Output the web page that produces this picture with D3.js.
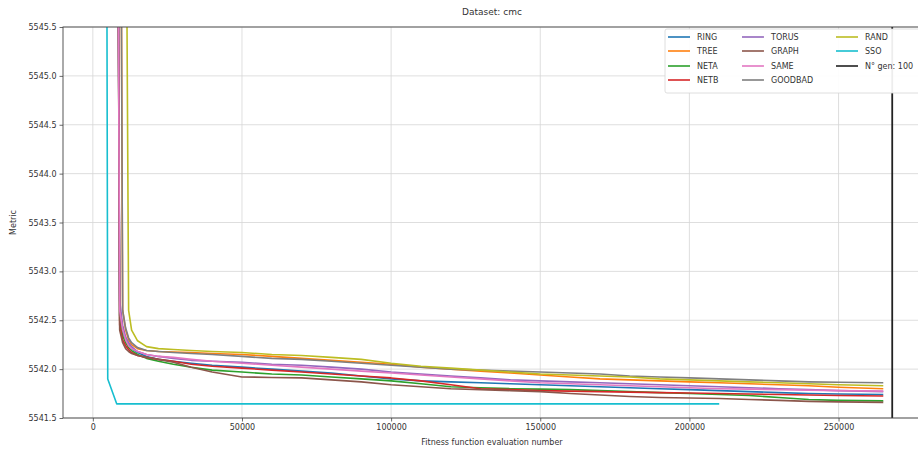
<!DOCTYPE html>
<html>
<head>
<meta charset="utf-8">
<script src="https://cdn.jsdelivr.net/npm/d3@7"></script>
<style>
  html, body { margin: 0; padding: 0; background: #fff; }
  svg { display: block; font-family: "DejaVu Sans", sans-serif; }
</style>
</head>
<body>
<svg id="chart" width="918" height="451"></svg>
<script>
// Fitness evaluation counts shared by every run
const evals = [4500, 5000, 8000, 9000, 10000, 11000, 12000, 13000, 15000, 18000, 22000, 27000,
  33000, 40000, 50000, 60000, 70000, 80000, 90000, 100000, 110000, 120000, 130000, 140000,
  150000, 160000, 170000, 180000, 190000, 200000, 210000, 220000, 230000, 240000, 250000, 265000];

// Best metric found so far by each topology (null = not yet sampled)
const ring = [null, null, 5550, 5542.55, 5542.38, 5542.3, 5542.25, 5542.21, 5542.17, 5542.13, 5542.1, 5542.08,
  5542.06, 5542.04, 5542.02, 5542.0, 5541.98, 5541.96, 5541.93, 5541.9, 5541.88, 5541.87, 5541.86, 5541.85,
  5541.84, 5541.83, 5541.82, 5541.81, 5541.8, 5541.79, 5541.78, 5541.77, 5541.76, 5541.75, 5541.745, 5541.74];
const tree = [null, null, 5551, 5550, 5542.6, 5542.4, 5542.3, 5542.25, 5542.21, 5542.19, 5542.18, 5542.175,
  5542.17, 5542.16, 5542.15, 5542.13, 5542.11, 5542.09, 5542.07, 5542.05, 5542.02, 5542.0, 5541.98, 5541.96,
  5541.94, 5541.92, 5541.9, 5541.89, 5541.88, 5541.87, 5541.86, 5541.85, 5541.84, 5541.83, 5541.815, 5541.8];
const neta = [null, null, 5550, 5542.5, 5542.34, 5542.27, 5542.22, 5542.19, 5542.15, 5542.11, 5542.08, 5542.05,
  5542.02, 5541.99, 5541.97, 5541.95, 5541.94, 5541.92, 5541.9, 5541.88, 5541.85, 5541.82, 5541.81, 5541.8,
  5541.795, 5541.79, 5541.78, 5541.77, 5541.76, 5541.75, 5541.74, 5541.73, 5541.71, 5541.69, 5541.68, 5541.675];
const netb = [null, null, 5550, 5542.45, 5542.3, 5542.24, 5542.2, 5542.17, 5542.14, 5542.12, 5542.1, 5542.08,
  5542.05, 5542.03, 5542.01, 5541.99, 5541.97, 5541.95, 5541.93, 5541.91, 5541.88, 5541.84, 5541.8, 5541.79,
  5541.78, 5541.775, 5541.77, 5541.765, 5541.76, 5541.755, 5541.75, 5541.745, 5541.74, 5541.735, 5541.73, 5541.725];
const torus = [null, null, 5550, 5542.7, 5542.45, 5542.33, 5542.27, 5542.23, 5542.18, 5542.15, 5542.13, 5542.11,
  5542.09, 5542.08, 5542.07, 5542.05, 5542.04, 5542.02, 5542.0, 5541.97, 5541.95, 5541.93, 5541.91, 5541.89,
  5541.88, 5541.87, 5541.86, 5541.85, 5541.84, 5541.83, 5541.82, 5541.81, 5541.8, 5541.79, 5541.78, 5541.77];
const graph = [null, null, 5550, 5542.4, 5542.27, 5542.21, 5542.18, 5542.16, 5542.14, 5542.12, 5542.1, 5542.07,
  5542.02, 5541.97, 5541.92, 5541.915, 5541.91, 5541.89, 5541.87, 5541.84, 5541.82, 5541.8, 5541.79, 5541.78,
  5541.77, 5541.75, 5541.735, 5541.72, 5541.71, 5541.705, 5541.7, 5541.69, 5541.68, 5541.67, 5541.665, 5541.66];
const same = [null, null, 5550, 5542.6, 5542.4, 5542.3, 5542.24, 5542.21, 5542.18, 5542.15, 5542.13, 5542.12,
  5542.1, 5542.08, 5542.06, 5542.04, 5542.02, 5542.0, 5541.98, 5541.96, 5541.94, 5541.92, 5541.9, 5541.88,
  5541.86, 5541.85, 5541.84, 5541.83, 5541.82, 5541.81, 5541.8, 5541.795, 5541.79, 5541.785, 5541.78, 5541.775];
const goodbad = [null, null, 5551, 5550, 5542.6, 5542.42, 5542.32, 5542.27, 5542.22, 5542.19, 5542.18, 5542.17,
  5542.16, 5542.15, 5542.13, 5542.11, 5542.1, 5542.08, 5542.06, 5542.04, 5542.02, 5542.0, 5541.99, 5541.98,
  5541.97, 5541.96, 5541.95, 5541.93, 5541.92, 5541.91, 5541.9, 5541.89, 5541.88, 5541.87, 5541.865, 5541.86];
const rand = [null, null, 5551, 5550, 5549, 5548, 5542.6, 5542.4, 5542.29, 5542.23, 5542.21, 5542.2,
  5542.19, 5542.18, 5542.17, 5542.15, 5542.14, 5542.12, 5542.1, 5542.06, 5542.03, 5542.01, 5541.99, 5541.97,
  5541.95, 5541.94, 5541.93, 5541.92, 5541.9, 5541.89, 5541.88, 5541.87, 5541.86, 5541.85, 5541.84, 5541.83];
const sso = [5549, 5541.9, 5541.645, 5541.645, 5541.645, 5541.645, 5541.645, 5541.645, 5541.645, 5541.645, 5541.645, 5541.645,
  5541.645, 5541.645, 5541.645, 5541.645, 5541.645, 5541.645, 5541.645, 5541.645, 5541.645, 5541.645, 5541.645, 5541.645,
  5541.645, 5541.645, 5541.645, 5541.645, 5541.645, 5541.645, 5541.645, null, null, null, null, null];

const seriesNames = ["RING", "TREE", "NETA", "NETB", "TORUS", "GRAPH", "SAME", "GOODBAD", "RAND", "SSO"];
const seriesValues = [ring, tree, neta, netb, torus, graph, same, goodbad, rand, sso];
const seriesColors = ["#1f77b4", "#ff7f0e", "#2ca02c", "#d62728", "#9467bd",
  "#8c564b", "#e377c2", "#7f7f7f", "#bcbd22", "#17becf"];

// Generation limit marker
const genLimitLabel = "N° gen: 100";
const genLimitEval = 268000;

const xTicks = [0, 50000, 100000, 150000, 200000, 250000];
const yTicks = [5541.5, 5542.0, 5542.5, 5543.0, 5543.5, 5544.0, 5544.5, 5545.0, 5545.5];

const svg = d3.select("#chart");
const plot = { left: 63, right: 931, top: 27, bottom: 418 };

const x = d3.scaleLinear().domain([-10000, 281000]).range([plot.left, plot.right]);
const y = d3.scaleLinear().domain([5541.5, 5545.5]).range([plot.bottom, plot.top]);

svg.append("defs").append("clipPath").attr("id", "plotClip")
  .append("rect")
  .attr("x", plot.left).attr("y", plot.top)
  .attr("width", plot.right - plot.left).attr("height", plot.bottom - plot.top);

// Grid
const grid = svg.append("g").attr("stroke", "#d6d6d6").attr("stroke-width", 0.8);
grid.selectAll(".vg").data(xTicks).join("line")
  .attr("x1", d => x(d)).attr("x2", d => x(d))
  .attr("y1", plot.top).attr("y2", plot.bottom);
grid.selectAll(".hg").data(yTicks).join("line")
  .attr("x1", plot.left).attr("x2", plot.right)
  .attr("y1", d => y(d)).attr("y2", d => y(d));

// Series lines
const lines = svg.append("g").attr("clip-path", "url(#plotClip)");
const lineGen = d3.line()
  .defined(d => d[1] !== null)
  .x(d => x(d[0]))
  .y(d => y(d[1]));

seriesValues.forEach((vals, i) => {
  lines.append("path")
    .datum(evals.map((e, k) => [e, vals[k]]))
    .attr("fill", "none")
    .attr("stroke", seriesColors[i])
    .attr("stroke-width", 1.6)
    .attr("stroke-linejoin", "round")
    .attr("d", lineGen);
});

lines.append("line")
  .attr("x1", x(genLimitEval)).attr("x2", x(genLimitEval))
  .attr("y1", plot.top).attr("y2", plot.bottom)
  .attr("stroke", "#222").attr("stroke-width", 1.8);

// Axes
const xAxis = d3.axisBottom(x).tickValues(xTicks).tickFormat(d3.format("d")).tickSize(3.5).tickPadding(3);
const yAxis = d3.axisLeft(y).tickValues(yTicks).tickFormat(d3.format(".1f")).tickSize(3.5).tickPadding(3);

const gx = svg.append("g").attr("transform", `translate(0,${plot.bottom})`).call(xAxis);
const gy = svg.append("g").attr("transform", `translate(${plot.left},0)`).call(yAxis);
[gx, gy].forEach(g => {
  g.select(".domain").remove();
  g.selectAll(".tick line").attr("stroke", "#444").attr("stroke-width", 0.8);
  g.selectAll(".tick text").attr("fill", "#333").attr("font-size", 8)
    .attr("font-family", "DejaVu Sans, sans-serif");
});

// Frame
svg.append("rect")
  .attr("x", plot.left).attr("y", plot.top)
  .attr("width", plot.right - plot.left).attr("height", plot.bottom - plot.top)
  .attr("fill", "none").attr("stroke", "#444").attr("stroke-width", 0.9);

// Titles
svg.append("text")
  .attr("x", (plot.left + plot.right) / 2 - 5).attr("y", 15)
  .attr("text-anchor", "middle").attr("font-size", 9).attr("fill", "#333")
  .text("Dataset: cmc");
svg.append("text")
  .attr("x", (plot.left + plot.right) / 2 - 5).attr("y", 445)
  .attr("text-anchor", "middle").attr("font-size", 8).attr("fill", "#333")
  .text("Fitness function evaluation number");
svg.append("text")
  .attr("transform", `translate(16,${(plot.top + plot.bottom) / 2}) rotate(-90)`)
  .attr("text-anchor", "middle").attr("font-size", 8).attr("fill", "#333")
  .text("Metric");

// Legend
const legendItems = seriesNames.map((n, i) => ({ name: n, color: seriesColors[i] }))
  .concat([{ name: genLimitLabel, color: "#222" }]);
const legend = svg.append("g");
legend.append("rect")
  .attr("x", 665).attr("y", 29).attr("width", 270).attr("height", 64)
  .attr("rx", 2).attr("fill", "#fff").attr("fill-opacity", 0.92)
  .attr("stroke", "#d5d5d5").attr("stroke-width", 0.8);
const colX = [668, 742, 836];
const rowY = [37, 51, 66, 80];
legendItems.forEach((it, i) => {
  const c = Math.floor(i / 4), r = i % 4;
  const g = legend.append("g").attr("transform", `translate(${colX[c]},${rowY[r]})`);
  g.append("line").attr("x1", 0).attr("x2", 22).attr("y1", 0).attr("y2", 0)
    .attr("stroke", it.color).attr("stroke-width", 1.6);
  g.append("text").attr("x", 29).attr("y", 3).attr("font-size", 8).attr("fill", "#333")
    .text(it.name);
});
</script>
</body>
</html>
